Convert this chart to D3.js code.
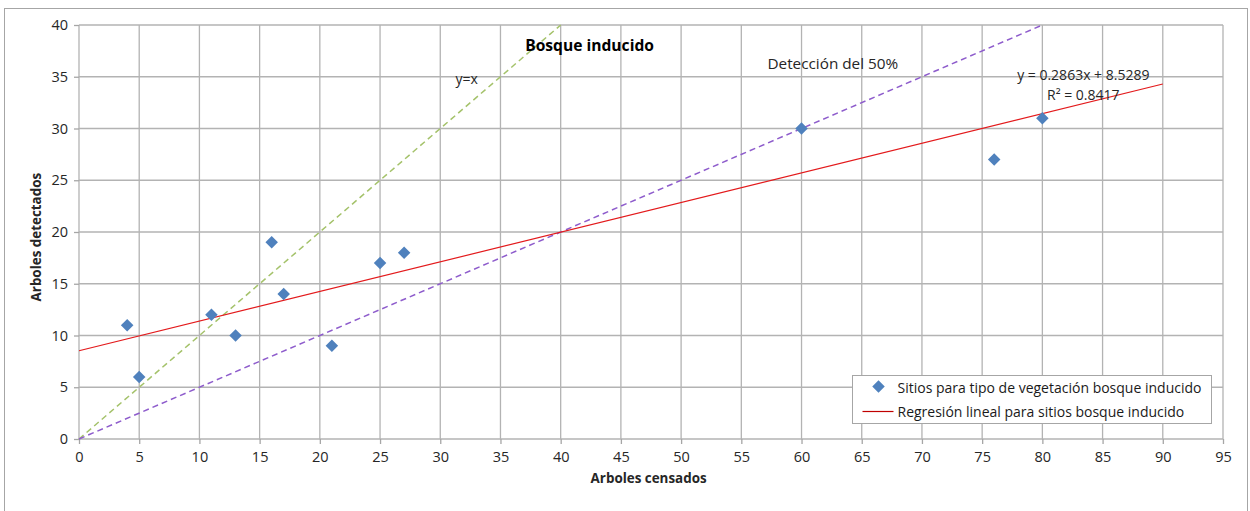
<!DOCTYPE html>
<html>
<head>
<meta charset="utf-8">
<script src="https://cdn.jsdelivr.net/npm/d3@7"></script>
<style>
  body { margin: 0; background: #fff; }
  text { font-family: "Open Sans", sans-serif; }
</style>
</head>
<body>
<div id="chart"></div>
<script>
const censados = [4, 5, 11, 13, 16, 17, 21, 25, 27, 60, 76, 80];
const detectados = [11, 6, 12, 10, 19, 14, 9, 17, 18, 30, 27, 31];
const xTicks = d3.range(0, 96, 5);
const yTicks = d3.range(0, 41, 5);
const slope = 0.2863, intercept = 8.5289;
const regRange = [0, 90];
const identityRange = [0, 40];
const halfRange = [0, 80];

const W = 1250, H = 511;
const margin = { top: 25, right: 27, bottom: 72, left: 79 };
const width = W - margin.left - margin.right;
const height = H - margin.top - margin.bottom;

const root = d3.select("#chart").append("svg")
    .attr("width", W).attr("height", H);

root.append("rect")
    .attr("x", 4.5).attr("y", 8.5).attr("width", 1243).attr("height", 510)
    .attr("fill", "none").attr("stroke", "#a6a6a6");

const svg = root.append("g")
    .attr("transform", `translate(${margin.left},${margin.top})`);

const x = d3.scaleLinear().domain([0, 95]).range([0, width]);
const y = d3.scaleLinear().domain([0, 40]).range([height, 0]);

// gridlines
svg.append("g").selectAll("line").data(xTicks).join("line")
    .attr("x1", d => x(d)).attr("x2", d => x(d))
    .attr("y1", 0).attr("y2", height)
    .attr("stroke", "#b3b3b3").attr("stroke-width", 1.3);
svg.append("g").selectAll("line").data(yTicks).join("line")
    .attr("x1", 0).attr("x2", width)
    .attr("y1", d => y(d)).attr("y2", d => y(d))
    .attr("stroke", "#b3b3b3").attr("stroke-width", 1.3);

const xAxis = svg.append("g")
    .attr("transform", `translate(0,${height})`)
    .call(d3.axisBottom(x).tickValues(xTicks).tickSize(5).tickPadding(8));
const yAxis = svg.append("g")
    .call(d3.axisLeft(y).tickValues(yTicks).tickSize(5).tickPadding(6));
[xAxis, yAxis].forEach(a => {
    a.select(".domain").remove();
    a.selectAll("line").attr("stroke", "#a6a6a6").attr("stroke-width", 1.3);
    a.selectAll("text").attr("font-family", "Open Sans").attr("font-size", 14.5).attr("fill", "#262626");
});

// reference lines
svg.append("line")
    .attr("x1", x(identityRange[0])).attr("y1", y(identityRange[0]))
    .attr("x2", x(identityRange[1])).attr("y2", y(identityRange[1]))
    .attr("stroke", "#a4c26a").attr("stroke-width", 1.5).attr("stroke-dasharray", "6,4");
svg.append("line")
    .attr("x1", x(halfRange[0])).attr("y1", y(halfRange[0] * 0.5))
    .attr("x2", x(halfRange[1])).attr("y2", y(halfRange[1] * 0.5))
    .attr("stroke", "#8e5ccc").attr("stroke-width", 1.5).attr("stroke-dasharray", "6,4");

// regression
svg.append("line")
    .attr("x1", x(regRange[0])).attr("y1", y(slope * regRange[0] + intercept))
    .attr("x2", x(regRange[1])).attr("y2", y(slope * regRange[1] + intercept))
    .attr("stroke", "#e31a1c").attr("stroke-width", 1.2);

// points
const diamond = d3.symbol().type(d3.symbolDiamond2).size(100);
svg.append("g").selectAll("path").data(censados).join("path")
    .attr("transform", (d, i) => `translate(${x(d)},${y(detectados[i])})`)
    .attr("d", diamond)
    .attr("fill", "#4f81bd");

// annotations
svg.append("text").attr("x", x(42.4)).attr("y", 26)
    .attr("text-anchor", "middle").attr("font-weight", "bold").attr("font-size", 15.6)
    .attr("fill", "#000").text("Bosque inducido");
svg.append("text").attr("x", x(32.2)).attr("y", 59)
    .attr("text-anchor", "middle").attr("font-size", 14).attr("fill", "#262626").text("y=x");
svg.append("text").attr("x", x(62.6)).attr("y", 44)
    .attr("text-anchor", "middle").attr("font-size", 15.3).attr("fill", "#262626").text("Detección del 50%");
svg.append("text").attr("x", x(83.4)).attr("y", 55)
    .attr("text-anchor", "middle").attr("font-size", 14).attr("fill", "#262626").text("y = 0.2863x + 8.5289");
svg.append("text").attr("x", x(83.4)).attr("y", 75)
    .attr("text-anchor", "middle").attr("font-size", 14).attr("fill", "#262626").text("R² = 0.8417");

// axis titles
svg.append("text").attr("x", x(47.3)).attr("y", height + 44)
    .attr("text-anchor", "middle").attr("font-weight", "bold").attr("font-size", 13.4)
    .attr("fill", "#262626").text("Arboles censados");
svg.append("text").attr("transform", `translate(${-38},${y(19.5)}) rotate(-90)`)
    .attr("text-anchor", "middle").attr("font-weight", "bold").attr("font-size", 13.4)
    .attr("fill", "#262626").text("Arboles detectados");

// legend
const lg = root.append("g").attr("transform", "translate(852.5,375.5)");
lg.append("rect").attr("width", 359).attr("height", 48)
    .attr("fill", "#fff").attr("stroke", "#a6a6a6");
lg.append("path").attr("d", diamond).attr("transform", "translate(26,11)").attr("fill", "#4f81bd");
lg.append("line").attr("x1", 10).attr("x2", 41).attr("y1", 36).attr("y2", 36)
    .attr("stroke", "#c00000").attr("stroke-width", 1.2);
lg.append("text").attr("x", 45).attr("y", 17).attr("font-size", 14).attr("fill", "#1a1a1a")
    .text("Sitios para tipo de vegetación bosque inducido");
lg.append("text").attr("x", 45).attr("y", 41).attr("font-size", 14).attr("fill", "#1a1a1a")
    .text("Regresión lineal para sitios bosque inducido");
</script>
</body>
</html>
